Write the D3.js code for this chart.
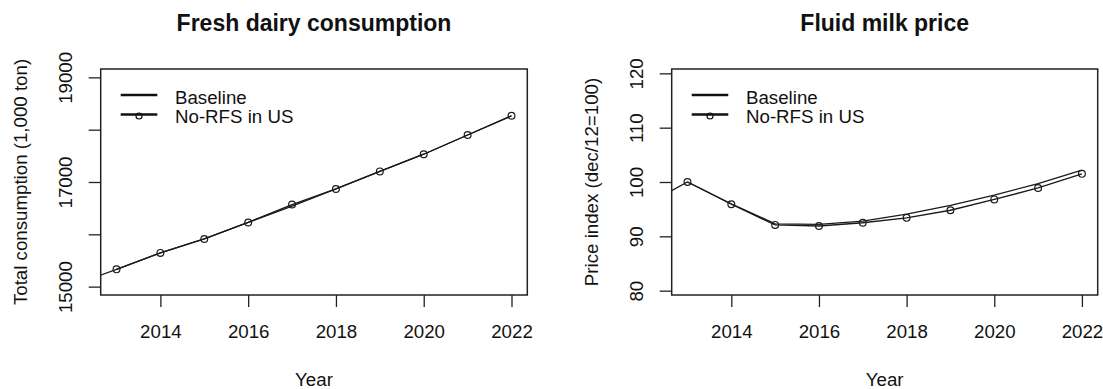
<!DOCTYPE html>
<html>
<head>
<meta charset="utf-8">
<script src="https://cdn.jsdelivr.net/npm/d3@7"></script>
<style>
  html, body { margin: 0; padding: 0; background: #fff; }
  svg { display: block; font-family: "Liberation Sans", Arial, sans-serif; }
</style>
</head>
<body>
<svg id="chart" width="1103" height="389"></svg>
<script>
// Projection years (2012 is only used by the baseline run and falls outside the plotted window)
const years = [2012, 2013, 2014, 2015, 2016, 2017, 2018, 2019, 2020, 2021, 2022];

// Fresh dairy consumption, 1,000 ton
const consBaseline = [15025, 15330, 15645, 15911, 16227, 16540, 16867, 17203, 17531, 17898, 18266];
const consNoRFS    = [null,  15330, 15645, 15911, 16227, 16569, 16867, 17203, 17531, 17898, 18266];

// Fluid milk price index, dec/12 = 100
const priceBaseline = [95.6, 100.0, 96.0, 92.3, 92.2, 92.8, 94.1, 95.7, 97.6, 99.7, 102.2];
const priceNoRFS    = [null, 100.0, 95.9, 92.1, 91.9, 92.5, 93.4, 94.8, 96.8, 98.9, 101.5];

const yearTicks = [2014, 2016, 2018, 2020, 2022];
const consTicks = [15000, 16000, 17000, 18000, 19000];
const consTickLabels = [15000, 17000, 19000];
const priceTicks = [80, 90, 100, 110, 120];
const priceTickLabels = [80, 90, 100, 110, 120];

const seriesNames = ["Baseline", "No-RFS in US"];

const svg = d3.select("#chart");
const FONT = 18.7;
const INK = "#111";

function panel(opts) {
  const { x0, x1, y0, y1, yDomain, title, yTitle, base, alt, yTicks, yLabels, clipId } = opts;

  // R-style 4% padding around the data window
  const x = d3.scaleLinear().domain([2012.64, 2022.36]).range([x0, x1]);
  const y = d3.scaleLinear().domain(yDomain).range([y1, y0]);

  const g = svg.append("g");

  svg.append("clipPath").attr("id", clipId)
    .append("rect").attr("x", x0).attr("y", y0).attr("width", x1 - x0).attr("height", y1 - y0);

  // title
  g.append("text")
    .attr("x", (x0 + x1) / 2).attr("y", 31)
    .attr("text-anchor", "middle")
    .attr("font-weight", "bold").attr("font-size", 23)
    .attr("fill", INK)
    .text(title);

  // x axis
  const xa = g.append("g").attr("transform", `translate(0,${y1})`)
    .call(d3.axisBottom(x).tickValues(yearTicks).tickSize(12).tickFormat(d3.format("d")));
  xa.select(".domain").remove();
  xa.selectAll("line").attr("stroke", "#222").attr("stroke-width", 1.3);
  xa.selectAll("text")
    .attr("y", 42.5).attr("dy", null)
    .attr("font-size", FONT).attr("font-family", null).attr("fill", INK);

  // y axis with rotated labels
  const ya = g.append("g").attr("transform", `translate(${x0},0)`)
    .call(d3.axisLeft(y).tickValues(yTicks).tickSize(12)
      .tickFormat(d => yLabels.includes(d) ? String(d) : ""));
  ya.select(".domain").remove();
  ya.selectAll("line").attr("stroke", "#222").attr("stroke-width", 1.3);
  ya.selectAll("text")
    .attr("x", null).attr("dy", null)
    .attr("transform", "translate(-28.5,0) rotate(-90)")
    .attr("text-anchor", "middle")
    .attr("font-size", FONT).attr("font-family", null).attr("fill", INK);

  // axis titles
  g.append("text")
    .attr("x", (x0 + x1) / 2).attr("y", 385.5)
    .attr("text-anchor", "middle").attr("font-size", FONT).attr("fill", INK)
    .text("Year");
  g.append("text")
    .attr("transform", `translate(${x0 - 74},${(y0 + y1) / 2}) rotate(-90)`)
    .attr("text-anchor", "middle").attr("font-size", FONT).attr("fill", INK)
    .text(yTitle);

  // series
  const line = d3.line()
    .defined(d => d[1] != null)
    .x(d => x(d[0])).y(d => y(d[1]));
  const plot = g.append("g").attr("clip-path", `url(#${clipId})`);

  plot.append("path")
    .datum(years.map((yr, i) => [yr, base[i]]))
    .attr("d", line).attr("fill", "none")
    .attr("stroke", "#1a1a1a").attr("stroke-width", 1.3);

  const altPts = years.map((yr, i) => [yr, alt[i]]);
  plot.append("path")
    .datum(altPts)
    .attr("d", line).attr("fill", "none")
    .attr("stroke", "#1a1a1a").attr("stroke-width", 1.3);

  plot.selectAll("circle.pt")
    .data(altPts.filter(d => d[1] != null))
    .join("circle").attr("class", "pt")
    .attr("cx", d => x(d[0])).attr("cy", d => y(d[1]))
    .attr("r", 3.4).attr("fill", "none")
    .attr("stroke", "#1a1a1a").attr("stroke-width", 1.2);

  // plot frame
  g.append("rect")
    .attr("x", x0).attr("y", y0).attr("width", x1 - x0).attr("height", y1 - y0)
    .attr("fill", "none").attr("stroke", "#222").attr("stroke-width", 1.5);

  // legend
  const lg = g.append("g").attr("transform", `translate(${x0},0)`);
  seriesNames.forEach((name, i) => {
    const ly = 95 + i * 19.5;
    lg.append("line")
      .attr("x1", 20).attr("x2", 56.6).attr("y1", ly).attr("y2", ly)
      .attr("stroke", "#111").attr("stroke-width", 2.5);
    if (i === 1) {
      lg.append("circle")
        .attr("cx", 38.3).attr("cy", ly + 1.5).attr("r", 3)
        .attr("fill", "none").attr("stroke", "#111").attr("stroke-width", 1.2);
    }
    lg.append("text")
      .attr("x", 74.3).attr("y", ly + 8.5)
      .attr("font-size", FONT).attr("fill", INK)
      .text(name);
  });
}

panel({
  x0: 100.7, x1: 527.3, y0: 69, y1: 295,
  yDomain: [14840, 19160],
  title: "Fresh dairy consumption",
  yTitle: "Total consumption (1,000 ton)",
  base: consBaseline, alt: consNoRFS,
  yTicks: consTicks, yLabels: consTickLabels,
  clipId: "clip-cons"
});

panel({
  x0: 671.7, x1: 1097.7, y0: 69, y1: 295,
  yDomain: [79.2, 120.8],
  title: "Fluid milk price",
  yTitle: "Price index (dec/12=100)",
  base: priceBaseline, alt: priceNoRFS,
  yTicks: priceTicks, yLabels: priceTickLabels,
  clipId: "clip-price"
});
</script>
</body>
</html>
